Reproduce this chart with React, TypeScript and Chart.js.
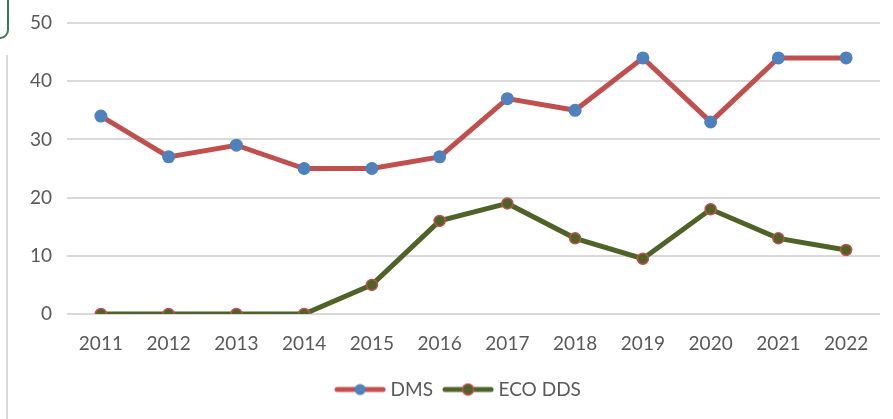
import React, { useEffect, useRef } from "react";
import { Chart, registerables } from "chart.js";

Chart.register(...registerables);

const years = ["2011", "2012", "2013", "2014", "2015", "2016", "2017", "2018", "2019", "2020", "2021", "2022"];
const dmsValues = [34, 27, 29, 25, 25, 27, 37, 35, 44, 33, 44, 44];
const ecoValues = [0, 0, 0, 0, 5, 16, 19, 13, 9.5, 18, 13, 11];
const yTicks = [0, 10, 20, 30, 40, 50];

const RED = "#c0504d";
const BLUE = "#4f81bd";
const GREEN = "#4f6228";
const TEXT = "#595959";
const FONT = "Lato, 'Open Sans', sans-serif";

function legendIcon(line: string, fill: string, border: string) {
  const c = document.createElement("canvas");
  c.width = 52;
  c.height = 14;
  const ctx = c.getContext("2d")!;
  ctx.strokeStyle = line;
  ctx.lineWidth = 5;
  ctx.lineCap = "round";
  ctx.beginPath();
  ctx.moveTo(3, 7);
  ctx.lineTo(49, 7);
  ctx.stroke();
  ctx.beginPath();
  ctx.arc(26, 7, 5.5, 0, Math.PI * 2);
  ctx.fillStyle = fill;
  ctx.fill();
  if (border !== fill) {
    ctx.lineWidth = 1.5;
    ctx.strokeStyle = border;
    ctx.stroke();
  }
  return c;
}

const shiftLegend = {
  id: "shiftLegend",
  afterLayout(chart: any) {
    const lg = chart.legend;
    if (lg) {
      lg.left += 20;
      lg.right += 20;
    }
  },
};

export default function App() {
  const ref = useRef<HTMLCanvasElement>(null);
  useEffect(() => {
    const icons = [legendIcon(RED, BLUE, BLUE), legendIcon(GREEN, GREEN, RED)];
    const chart = new Chart(ref.current!, {
      type: "line",
      data: {
        labels: years,
        datasets: [
          {
            label: "DMS",
            data: dmsValues,
            borderColor: RED,
            backgroundColor: BLUE,
            borderWidth: 5,
            pointRadius: 6.5,
            pointBackgroundColor: BLUE,
            pointBorderColor: BLUE,
            pointBorderWidth: 0,
            tension: 0,
          },
          {
            label: "ECO DDS",
            data: ecoValues,
            borderColor: GREEN,
            backgroundColor: GREEN,
            borderWidth: 5,
            pointRadius: 5.5,
            pointBackgroundColor: GREEN,
            pointBorderColor: RED,
            pointBorderWidth: 1.5,
            tension: 0,
          },
        ],
      },
      plugins: [shiftLegend],
      options: {
        animation: false,
        responsive: false,
        maintainAspectRatio: false,
        layout: { padding: { top: 23, right: 13, left: 0, bottom: 10 } },
        plugins: {
          tooltip: { enabled: false },
          legend: {
            position: "bottom",
            labels: {
              color: TEXT,
              font: { family: FONT, size: 19 },
              usePointStyle: true,
              pointStyleWidth: 42,
              boxHeight: 14,
              padding: 14,
              generateLabels: (ch: any) =>
                ch.data.datasets.map((ds: any, i: number) => ({
                  text: ds.label,
                  pointStyle: icons[i],
                  fillStyle: "transparent",
                  strokeStyle: "transparent",
                  lineWidth: 0,
                  fontColor: TEXT,
                  datasetIndex: i,
                  hidden: false,
                })),
            },
          },
        },
        scales: {
          x: {
            offset: true,
            grid: { display: false, drawTicks: false },
            border: { display: false },
            ticks: { color: TEXT, font: { family: FONT, size: 19 }, padding: 18, maxRotation: 0 },
            afterFit: (s: any) => {
              s.height = 52;
              s.paddingLeft = 0;
              s.paddingRight = 0;
            },
          },
          y: {
            min: 0,
            max: 50,
            afterBuildTicks: (s: any) => {
              s.ticks = yTicks.map((v) => ({ value: v }));
            },
            grid: { color: "#d9d9d9", lineWidth: 2, drawTicks: false },
            border: { display: false },
            ticks: { color: TEXT, font: { family: FONT, size: 19 }, padding: 15 },
            afterFit: (s: any) => {
              s.width = 67;
              s.paddingTop = 0;
              s.paddingBottom = 0;
            },
          },
        },
      },
    });
    return () => chart.destroy();
  }, []);
  return (
    <div style={{ position: "fixed", left: 0, top: 0, width: 893, height: 419, background: "#fff", overflow: "hidden" }}>
      <div
        style={{
          position: "absolute",
          left: -40,
          top: -12,
          width: 45,
          height: 47,
          border: "2px solid #3d7a52",
          borderRadius: 9,
        }}
      />
      <div style={{ position: "absolute", left: 6, top: 55, width: 2, height: 364, background: "#d9d9d9" }} />
      <canvas ref={ref} width={893} height={419} style={{ position: "absolute", left: 0, top: 0 }} />
    </div>
  );
}
